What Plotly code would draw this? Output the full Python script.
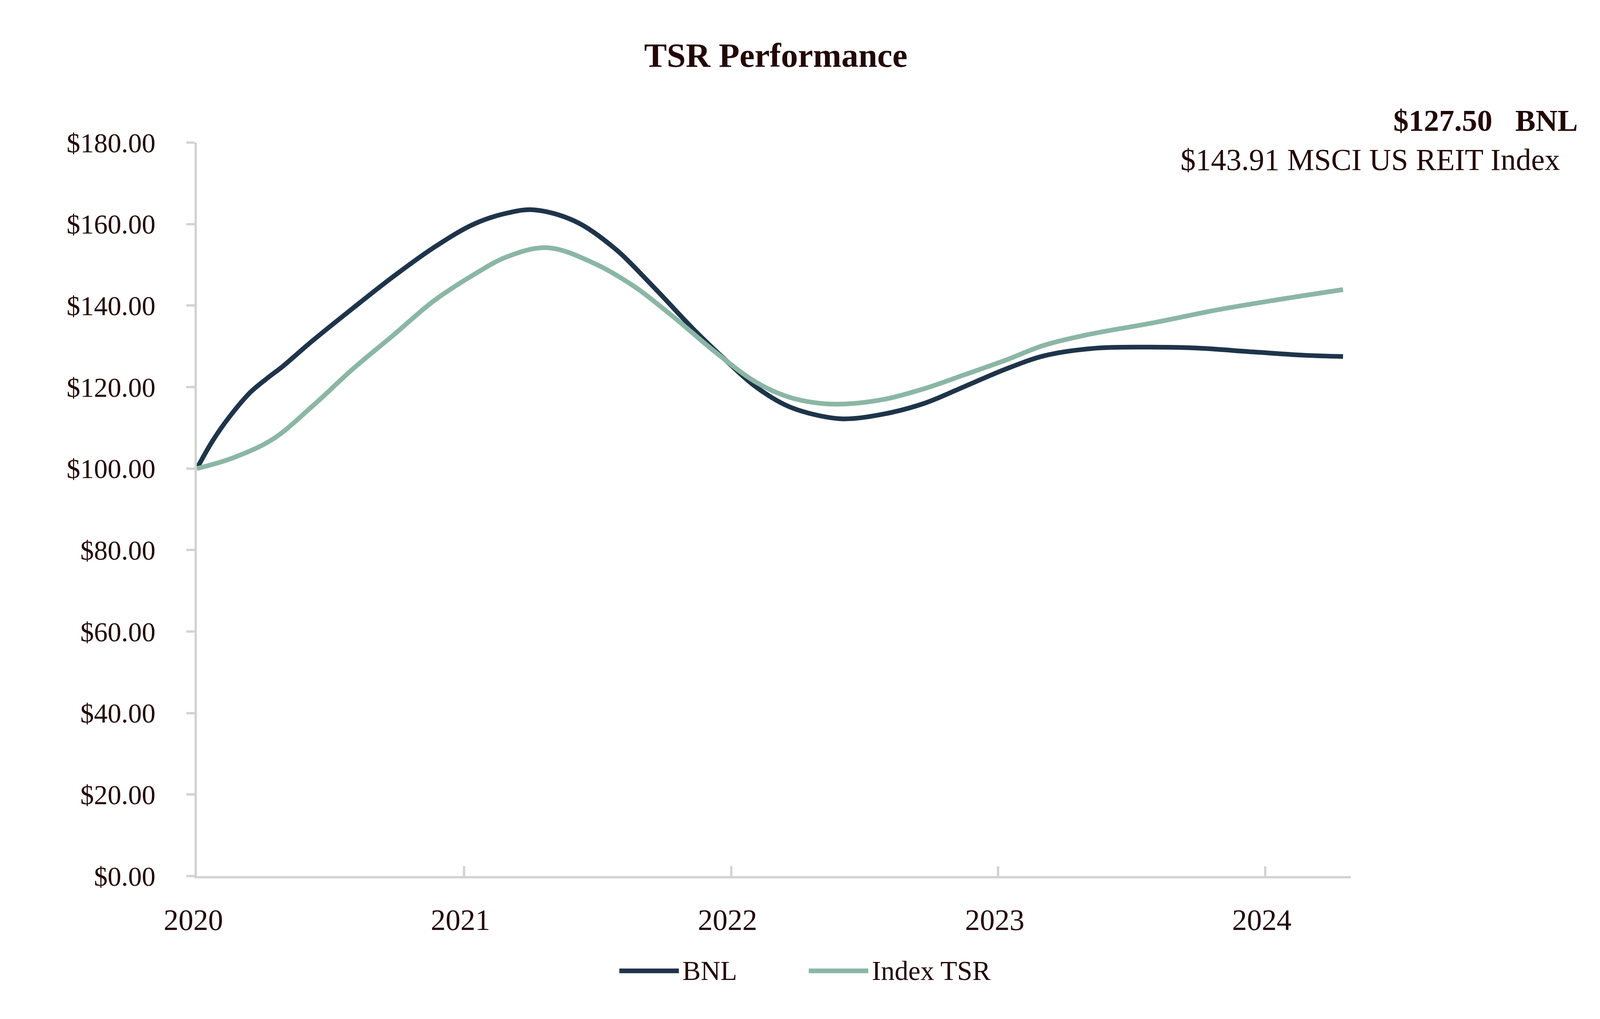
import plotly.graph_objects as go

# ---- data ----
bnl_x = [2020.000, 2020.058, 2020.122, 2020.200, 2020.270, 2020.320, 2020.430, 2020.585,
         2020.735, 2020.886, 2021.037, 2021.162, 2021.261, 2021.412, 2021.561, 2021.712,
         2021.862, 2021.983, 2022.088, 2022.200, 2022.290, 2022.418, 2022.573, 2022.723,
         2022.873, 2023.024, 2023.174, 2023.358, 2023.545, 2023.734, 2023.959, 2024.148,
         2024.291]
bnl_y = [100.0, 106.7, 112.7, 118.7, 122.5, 125.0, 131.2, 139.4,
         147.1, 154.2, 160.0, 162.7, 163.5, 160.8, 154.2, 144.4,
         134.0, 126.4, 120.3, 115.7, 113.6, 112.2, 113.4, 116.0,
         120.1, 124.3, 127.7, 129.5, 129.8, 129.6, 128.6, 127.8,
         127.50]

idx_x = [2020.000, 2020.134, 2020.284, 2020.434, 2020.585, 2020.735, 2020.886, 2021.037,
         2021.162, 2021.313, 2021.486, 2021.637, 2021.788, 2021.937, 2022.088, 2022.200,
         2022.290, 2022.400, 2022.573, 2022.723, 2022.873, 2023.024, 2023.174, 2023.338,
         2023.583, 2023.809, 2024.034, 2024.291]
idx_y = [100.0, 102.6, 107.2, 115.4, 124.5, 132.7, 141.1, 147.6,
         152.0, 154.2, 150.4, 144.7, 137.0, 128.8, 121.4, 117.9,
         116.4, 115.8, 117.0, 119.6, 123.0, 126.5, 130.3, 132.9,
         135.8, 138.8, 141.3, 143.91]

year_ticks = [2020, 2021, 2022, 2023, 2024]
year_labels = ["2020", "2021", "2022", "2023", "2024"]
y_ticks = [0, 20, 40, 60, 80, 100, 120, 140, 160, 180]

series_names = ["BNL", "Index TSR"]
final_bnl = "$127.50"
final_idx = "$143.91"
idx_full_name = "MSCI US REIT Index"

# ---- styles ----
C_BNL = "#1E344A"
C_IDX = "#8BB6A5"
C_TXT = "#230606"
C_AX = "#D3D3D3"
FONT = "Liberation Serif, Times New Roman, serif"

# page viewport is 4096x2609 with an 8px body margin
W, H = 4080, 2593
SX, SY = W / 4552, H / 2609          # reference-pixel -> figure-pixel
FS = (SX * SY) ** 0.5                 # font scale

L = round(553 * SX)
R = W - round(3849 * SX)
T = round(359 * SY)
B = H - round(2249 * SY)
pw = W - L - R
ph = H - T - B


def rx(px):
    return (px * SX - L) / pw


def ry(py):
    return (H - B - py * SY) / ph


fig = go.Figure()
fig.add_trace(go.Scatter(x=bnl_x, y=bnl_y, mode="lines", name=series_names[0],
                         line=dict(color=C_BNL, width=12, shape="spline", smoothing=1.0),
                         showlegend=False))
fig.add_trace(go.Scatter(x=idx_x, y=idx_y, mode="lines", name=series_names[1],
                         line=dict(color=C_IDX, width=12, shape="spline", smoothing=1.0),
                         showlegend=False))

NB = "\u00a0"
annotations = [
    dict(text="<b>TSR Performance</b>", x=rx(2207), y=ry(134), xanchor="center",
         yanchor="middle", font=dict(size=round(92 * FS), color=C_TXT, family=FONT)),
    dict(text="<b>" + final_bnl + NB * 3 + series_names[0] + "</b>", x=rx(4500), y=ry(302),
         xanchor="right", yanchor="middle", font=dict(size=round(83 * FS), color=C_TXT, family=FONT)),
    dict(text=final_idx + " " + idx_full_name, x=rx(4448), y=ry(403),
         xanchor="right", yanchor="middle", font=dict(size=round(83 * FS), color=C_TXT, family=FONT)),
    dict(text=series_names[0], x=rx(1938), y=ry(2493), xanchor="left",
         yanchor="middle", font=dict(size=round(74 * FS), color=C_TXT, family=FONT)),
    dict(text=series_names[1], x=rx(2479), y=ry(2493), xanchor="left",
         yanchor="middle", font=dict(size=round(74 * FS), color=C_TXT, family=FONT)),
]
for a in annotations:
    a.update(xref="paper", yref="paper", showarrow=False)

shapes = [
    dict(type="line", xref="paper", yref="paper", x0=rx(1760), x1=rx(1930),
         y0=ry(2493), y1=ry(2493), line=dict(color=C_BNL, width=12)),
    dict(type="line", xref="paper", yref="paper", x0=rx(2301), x1=rx(2471),
         y0=ry(2493), y1=ry(2493), line=dict(color=C_IDX, width=12)),
]

fig.update_layout(
    width=W, height=H,
    margin=dict(l=L, r=R, t=T, b=B, pad=0),
    paper_bgcolor="white", plot_bgcolor="white",
    font=dict(family=FONT, color=C_TXT),
    annotations=annotations,
    shapes=shapes,
    showlegend=False,
    xaxis=dict(range=[2020, 2024.32], tickvals=year_ticks, ticktext=year_labels,
               showgrid=False, zeroline=False, showline=True, linecolor=C_AX, linewidth=6,
               ticks="inside", ticklen=25, tickwidth=6, tickcolor=C_AX,
               tickfont=dict(size=round(80 * FS), color=C_TXT, family=FONT),
               ticklabelstandoff=41, ticklabelshift=-9),
    yaxis=dict(range=[0, 180], tickvals=y_ticks, tickformat="$,.2f",
               showgrid=False, zeroline=False, showline=True, linecolor=C_AX, linewidth=6,
               ticks="outside", ticklen=21, tickwidth=6, tickcolor=C_AX,
               tickfont=dict(size=round(74 * FS), color=C_TXT, family=FONT),
               ticklabelstandoff=65),
)

fig.write_html("out.html")
